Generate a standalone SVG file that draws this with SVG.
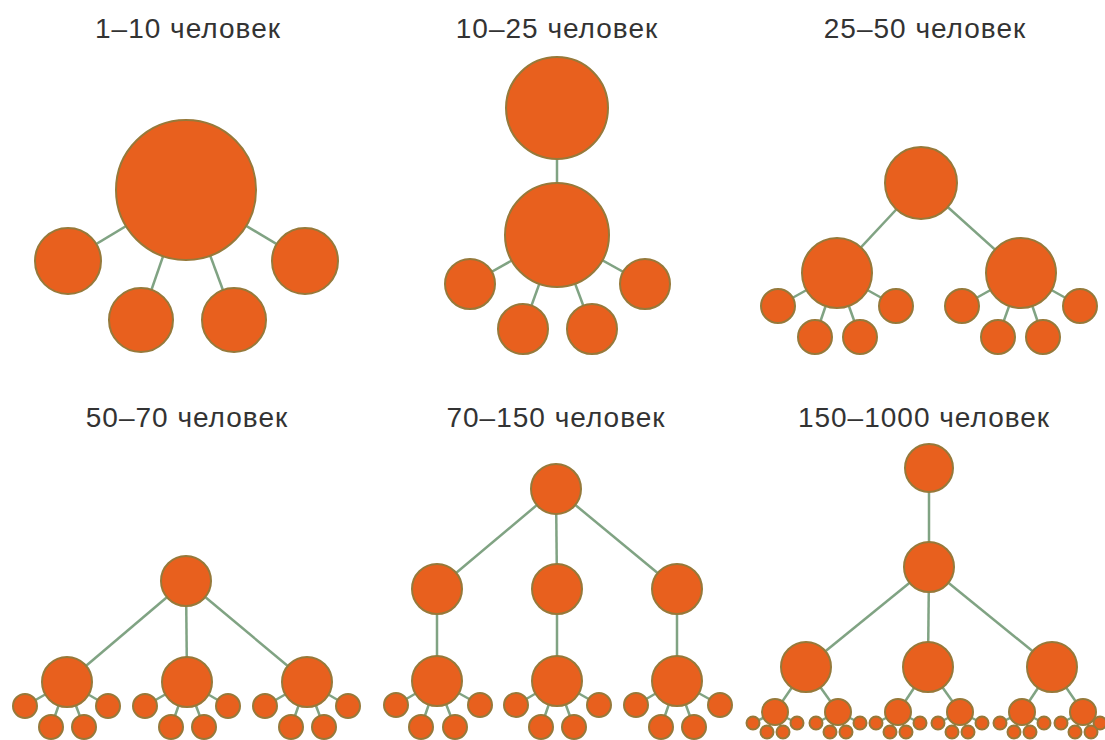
<svg xmlns="http://www.w3.org/2000/svg" width="1105" height="740" viewBox="0 0 1105 740">
<style>
.n{fill:#E8601E;stroke:#96793A;stroke-width:2}
.c line{stroke:#80A383;stroke-width:2.5}
.t{font-family:"Liberation Sans",Arial,sans-serif;font-size:28px;letter-spacing:1px;fill:#333;text-anchor:middle}
</style>
<rect width="1105" height="740" fill="#fff"/>
<g id="titles">
<text class="t" x="188" y="38">1–10 человек</text>
<text class="t" x="557" y="38">10–25 человек</text>
<text class="t" x="925" y="38">25–50 человек</text>
<text class="t" x="187" y="427">50–70 человек</text>
<text class="t" x="556" y="427">70–150 человек</text>
<text class="t" x="924" y="427">150–1000 человек</text>
</g>
<g class="c" id="connectors">
<line x1="186" y1="190" x2="68" y2="261"/><line x1="186" y1="190" x2="305" y2="261"/>
<line x1="186" y1="190" x2="141" y2="320"/><line x1="186" y1="190" x2="234" y2="320"/>
<line x1="557" y1="108" x2="557" y2="235"/>
<line x1="557" y1="235" x2="470" y2="284"/><line x1="557" y1="235" x2="645" y2="284"/>
<line x1="557" y1="235" x2="523" y2="329"/><line x1="557" y1="235" x2="592" y2="329"/>
<line x1="921" y1="183" x2="837" y2="273"/><line x1="921" y1="183" x2="1021" y2="273"/>
<line x1="837" y1="273" x2="778" y2="306"/><line x1="837" y1="273" x2="896" y2="306"/>
<line x1="837" y1="273" x2="815" y2="337"/><line x1="837" y1="273" x2="860" y2="337"/>
<line x1="1021" y1="273" x2="962" y2="306"/><line x1="1021" y1="273" x2="1080" y2="306"/>
<line x1="1021" y1="273" x2="998" y2="337"/><line x1="1021" y1="273" x2="1043" y2="337"/>
<line x1="186" y1="581" x2="67" y2="682"/><line x1="186" y1="581" x2="187" y2="682"/><line x1="186" y1="581" x2="307" y2="682"/>
<line x1="67" y1="682" x2="25" y2="706"/><line x1="67" y1="682" x2="108" y2="706"/><line x1="67" y1="682" x2="51" y2="727"/><line x1="67" y1="682" x2="84" y2="727"/>
<line x1="187" y1="682" x2="145" y2="706"/><line x1="187" y1="682" x2="228" y2="706"/><line x1="187" y1="682" x2="171" y2="727"/><line x1="187" y1="682" x2="204" y2="727"/>
<line x1="307" y1="682" x2="265" y2="706"/><line x1="307" y1="682" x2="348" y2="706"/><line x1="307" y1="682" x2="291" y2="727"/><line x1="307" y1="682" x2="324" y2="727"/>
<line x1="556" y1="489" x2="437" y2="589"/><line x1="556" y1="489" x2="557" y2="589"/><line x1="556" y1="489" x2="677" y2="589"/>
<line x1="437" y1="589" x2="437" y2="681"/><line x1="557" y1="589" x2="557" y2="681"/><line x1="677" y1="589" x2="677" y2="681"/>
<line x1="437" y1="681" x2="396" y2="705"/><line x1="437" y1="681" x2="480" y2="705"/><line x1="437" y1="681" x2="421" y2="727"/><line x1="437" y1="681" x2="455" y2="727"/>
<line x1="557" y1="681" x2="516" y2="705"/><line x1="557" y1="681" x2="599" y2="705"/><line x1="557" y1="681" x2="541" y2="727"/><line x1="557" y1="681" x2="574" y2="727"/>
<line x1="677" y1="681" x2="636" y2="705"/><line x1="677" y1="681" x2="720" y2="705"/><line x1="677" y1="681" x2="661" y2="727"/><line x1="677" y1="681" x2="694" y2="727"/>
<line x1="929" y1="468" x2="929" y2="567"/>
<line x1="929" y1="567" x2="806" y2="667"/><line x1="929" y1="567" x2="928" y2="667"/><line x1="929" y1="567" x2="1052" y2="667"/>
<line x1="806" y1="667" x2="775" y2="712"/><line x1="806" y1="667" x2="838" y2="712"/>
<line x1="928" y1="667" x2="898" y2="712"/><line x1="928" y1="667" x2="960" y2="712"/>
<line x1="1052" y1="667" x2="1022" y2="712"/><line x1="1052" y1="667" x2="1083" y2="712"/>
<line x1="775" y1="712" x2="753" y2="723"/><line x1="775" y1="712" x2="797" y2="723"/><line x1="775" y1="712" x2="767" y2="732"/><line x1="775" y1="712" x2="783" y2="732"/>
<line x1="838" y1="712" x2="816" y2="723"/><line x1="838" y1="712" x2="860" y2="723"/><line x1="838" y1="712" x2="830" y2="732"/><line x1="838" y1="712" x2="846" y2="732"/>
<line x1="898" y1="712" x2="876" y2="723"/><line x1="898" y1="712" x2="920" y2="723"/><line x1="898" y1="712" x2="890" y2="732"/><line x1="898" y1="712" x2="906" y2="732"/>
<line x1="960" y1="712" x2="938" y2="723"/><line x1="960" y1="712" x2="982" y2="723"/><line x1="960" y1="712" x2="952" y2="732"/><line x1="960" y1="712" x2="968" y2="732"/>
<line x1="1022" y1="712" x2="1000" y2="723"/><line x1="1022" y1="712" x2="1044" y2="723"/><line x1="1022" y1="712" x2="1014" y2="732"/><line x1="1022" y1="712" x2="1030" y2="732"/>
<line x1="1083" y1="712" x2="1061" y2="723"/><line x1="1083" y1="712" x2="1100" y2="723"/><line x1="1083" y1="712" x2="1075" y2="732"/><line x1="1083" y1="712" x2="1091" y2="732"/>
</g>
<g id="p1">
<g id="p1-root"><circle class="n" cx="186" cy="190" r="70"/></g>
<g id="p1-a"><circle class="n" cx="68" cy="261" r="33"/></g>
<g id="p1-b"><circle class="n" cx="305" cy="261" r="33"/></g>
<g id="p1-c"><circle class="n" cx="141" cy="320" r="32"/></g>
<g id="p1-d"><circle class="n" cx="234" cy="320" r="32"/></g>
</g>
<g id="p2">
<g id="p2-top"><circle class="n" cx="557" cy="108" r="51"/></g>
<g id="p2-mid"><circle class="n" cx="557" cy="235" r="52"/></g>
<g id="p2-a"><circle class="n" cx="470" cy="284" r="25"/></g>
<g id="p2-b"><circle class="n" cx="645" cy="284" r="25"/></g>
<g id="p2-c"><circle class="n" cx="523" cy="329" r="25"/></g>
<g id="p2-d"><circle class="n" cx="592" cy="329" r="25"/></g>
</g>
<g id="p3">
<g id="p3-root"><circle class="n" cx="921" cy="183" r="36"/></g>
<g id="p3-L"><circle class="n" cx="837" cy="273" r="35"/></g>
<g id="p3-R"><circle class="n" cx="1021" cy="273" r="35"/></g>
<g id="p3-L1"><circle class="n" cx="778" cy="306" r="17"/></g>
<g id="p3-L2"><circle class="n" cx="896" cy="306" r="17"/></g>
<g id="p3-L3"><circle class="n" cx="815" cy="337" r="17"/></g>
<g id="p3-L4"><circle class="n" cx="860" cy="337" r="17"/></g>
<g id="p3-R1"><circle class="n" cx="962" cy="306" r="17"/></g>
<g id="p3-R2"><circle class="n" cx="1080" cy="306" r="17"/></g>
<g id="p3-R3"><circle class="n" cx="998" cy="337" r="17"/></g>
<g id="p3-R4"><circle class="n" cx="1043" cy="337" r="17"/></g>
</g>
<g id="p4">
<g id="p4-root"><circle class="n" cx="186" cy="581" r="25"/></g>
<g id="p4-a"><circle class="n" cx="67" cy="682" r="25"/></g>
<g id="p4-b"><circle class="n" cx="187" cy="682" r="25"/></g>
<g id="p4-c"><circle class="n" cx="307" cy="682" r="25"/></g>
<g id="p4-a1"><circle class="n" cx="25" cy="706" r="12"/></g>
<g id="p4-a2"><circle class="n" cx="108" cy="706" r="12"/></g>
<g id="p4-a3"><circle class="n" cx="51" cy="727" r="12"/></g>
<g id="p4-a4"><circle class="n" cx="84" cy="727" r="12"/></g>
<g id="p4-b1"><circle class="n" cx="145" cy="706" r="12"/></g>
<g id="p4-b2"><circle class="n" cx="228" cy="706" r="12"/></g>
<g id="p4-b3"><circle class="n" cx="171" cy="727" r="12"/></g>
<g id="p4-b4"><circle class="n" cx="204" cy="727" r="12"/></g>
<g id="p4-c1"><circle class="n" cx="265" cy="706" r="12"/></g>
<g id="p4-c2"><circle class="n" cx="348" cy="706" r="12"/></g>
<g id="p4-c3"><circle class="n" cx="291" cy="727" r="12"/></g>
<g id="p4-c4"><circle class="n" cx="324" cy="727" r="12"/></g>
</g>
<g id="p5">
<g id="p5-root"><circle class="n" cx="556" cy="489" r="25"/></g>
<g id="p5-a"><circle class="n" cx="437" cy="589" r="25"/></g>
<g id="p5-b"><circle class="n" cx="557" cy="589" r="25"/></g>
<g id="p5-c"><circle class="n" cx="677" cy="589" r="25"/></g>
<g id="p5-a0"><circle class="n" cx="437" cy="681" r="25"/></g>
<g id="p5-b0"><circle class="n" cx="557" cy="681" r="25"/></g>
<g id="p5-c0"><circle class="n" cx="677" cy="681" r="25"/></g>
<g id="p5-a1"><circle class="n" cx="396" cy="705" r="12"/></g>
<g id="p5-a2"><circle class="n" cx="480" cy="705" r="12"/></g>
<g id="p5-a3"><circle class="n" cx="421" cy="727" r="12"/></g>
<g id="p5-a4"><circle class="n" cx="455" cy="727" r="12"/></g>
<g id="p5-b1"><circle class="n" cx="516" cy="705" r="12"/></g>
<g id="p5-b2"><circle class="n" cx="599" cy="705" r="12"/></g>
<g id="p5-b3"><circle class="n" cx="541" cy="727" r="12"/></g>
<g id="p5-b4"><circle class="n" cx="574" cy="727" r="12"/></g>
<g id="p5-c1"><circle class="n" cx="636" cy="705" r="12"/></g>
<g id="p5-c2"><circle class="n" cx="720" cy="705" r="12"/></g>
<g id="p5-c3"><circle class="n" cx="661" cy="727" r="12"/></g>
<g id="p5-c4"><circle class="n" cx="694" cy="727" r="12"/></g>
</g>
<g id="p6">
<g id="p6-top"><circle class="n" cx="929" cy="468" r="24"/></g>
<g id="p6-mid"><circle class="n" cx="929" cy="567" r="25"/></g>
<g id="p6-a"><circle class="n" cx="806" cy="667" r="25"/></g>
<g id="p6-b"><circle class="n" cx="928" cy="667" r="25"/></g>
<g id="p6-c"><circle class="n" cx="1052" cy="667" r="25"/></g>
<g id="p6-a1"><circle class="n" cx="775" cy="712" r="13"/></g>
<g id="p6-a2"><circle class="n" cx="838" cy="712" r="13"/></g>
<g id="p6-b1"><circle class="n" cx="898" cy="712" r="13"/></g>
<g id="p6-b2"><circle class="n" cx="960" cy="712" r="13"/></g>
<g id="p6-c1"><circle class="n" cx="1022" cy="712" r="13"/></g>
<g id="p6-c2"><circle class="n" cx="1083" cy="712" r="13"/></g>
<g id="p6-tiny">
<circle class="n" cx="753" cy="723" r="6.5"/><circle class="n" cx="797" cy="723" r="6.5"/><circle class="n" cx="767" cy="732" r="6.5"/><circle class="n" cx="783" cy="732" r="6.5"/>
<circle class="n" cx="816" cy="723" r="6.5"/><circle class="n" cx="860" cy="723" r="6.5"/><circle class="n" cx="830" cy="732" r="6.5"/><circle class="n" cx="846" cy="732" r="6.5"/>
<circle class="n" cx="876" cy="723" r="6.5"/><circle class="n" cx="920" cy="723" r="6.5"/><circle class="n" cx="890" cy="732" r="6.5"/><circle class="n" cx="906" cy="732" r="6.5"/>
<circle class="n" cx="938" cy="723" r="6.5"/><circle class="n" cx="982" cy="723" r="6.5"/><circle class="n" cx="952" cy="732" r="6.5"/><circle class="n" cx="968" cy="732" r="6.5"/>
<circle class="n" cx="1000" cy="723" r="6.5"/><circle class="n" cx="1044" cy="723" r="6.5"/><circle class="n" cx="1014" cy="732" r="6.5"/><circle class="n" cx="1030" cy="732" r="6.5"/>
<circle class="n" cx="1061" cy="723" r="6.5"/><circle class="n" cx="1100" cy="723" r="6.5"/><circle class="n" cx="1075" cy="732" r="6.5"/><circle class="n" cx="1091" cy="732" r="6.5"/>
</g>
</g>
</svg>
